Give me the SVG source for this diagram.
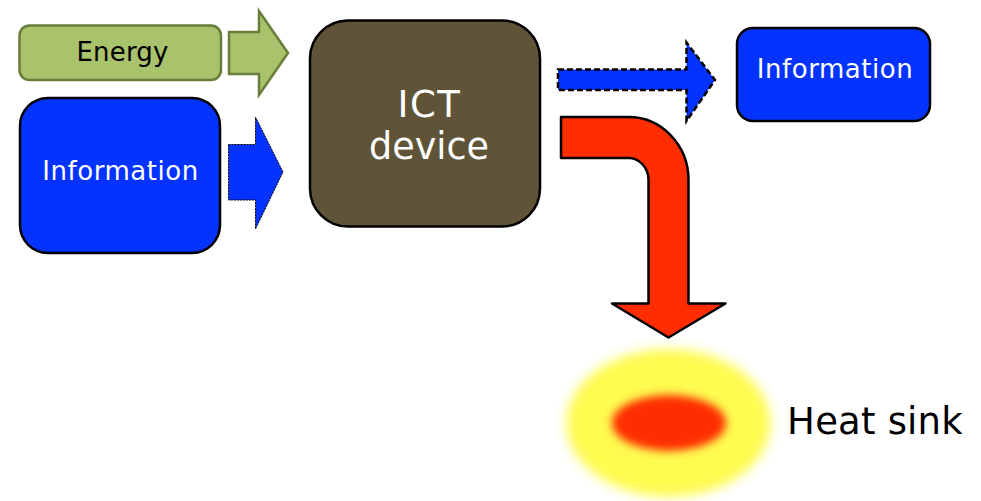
<svg xmlns="http://www.w3.org/2000/svg" width="981" height="501" viewBox="0 0 981 501">
<style>
text{font-family:"DejaVu Sans",Verdana,sans-serif;text-anchor:middle}
.info{fill:#0433ff;stroke:#000;stroke-width:2.5}
.w{fill:#fff}
.lbl{font-size:26px;letter-spacing:.55px}
</style>
<defs>
<filter id="b1" x="-30%" y="-30%" width="160%" height="160%"><feGaussianBlur stdDeviation="6"/></filter>
<filter id="b2" x="-30%" y="-40%" width="160%" height="180%"><feGaussianBlur stdDeviation="4"/></filter>
</defs>
<rect width="981" height="501" fill="#fff"/>
<g id="energy"><rect x="19.500" y="25.500" width="201.500" height="54.500" rx="10" fill="#a9c26c" stroke="#6b7d3a" stroke-width="2.500"/><text class="lbl" x="122.500" y="61" style="letter-spacing:.2px">Energy</text></g>
<g id="information-in"><rect class="info" x="20" y="98" width="200" height="155" rx="28"/><text class="w lbl" x="120.500" y="180">Information</text></g>
<g id="ict-device"><rect x="310" y="20.500" width="230" height="206" rx="38" fill="#5f5437" stroke="#000" stroke-width="2.500"/><text class="w" x="429.500" y="117" font-size="37" letter-spacing="1.500">ICT</text><text class="w" x="429" y="159" font-size="36.500">device</text></g>
<g id="information-out"><rect class="info" x="737" y="28" width="193" height="93" rx="16"/><text class="w lbl" x="835" y="78">Information</text></g>
<g id="heat-sink"><ellipse cx="668.500" cy="423" rx="102" ry="74" fill="#fffb4f" filter="url(#b1)"/><ellipse cx="669" cy="423" rx="57" ry="28" fill="#ff2d00" filter="url(#b2)"/><text x="875" y="434" font-size="37" letter-spacing=".2">Heat sink</text></g>
<g id="connectors">
<path d="M229 32H259V11L288 53L259 95V74H229Z" fill="#a9c26c" stroke="#6b7d3a" stroke-width="2.500"/>
<path d="M228.500 144.500H255.500V117L283 172L255.500 229V200H228.500Z" fill="#0433ff" stroke="#000" stroke-width="1" stroke-dasharray="2 1"/>
<path d="M558 69.500H686.500V42.500L715 80L686.500 121V90H558Z" fill="#0433ff" stroke="#000" stroke-width="2.500" stroke-dasharray="6 3"/>
<path d="M561 117H628A60 63 0 0 1 688.500 180V303.500H725.500L668.500 337.500L612 303.500H648.500V180A20 22 0 0 0 628 158H561Z" fill="#ff2d00" stroke="#000" stroke-width="2.500" stroke-linejoin="round"/>
</g>
</svg>
